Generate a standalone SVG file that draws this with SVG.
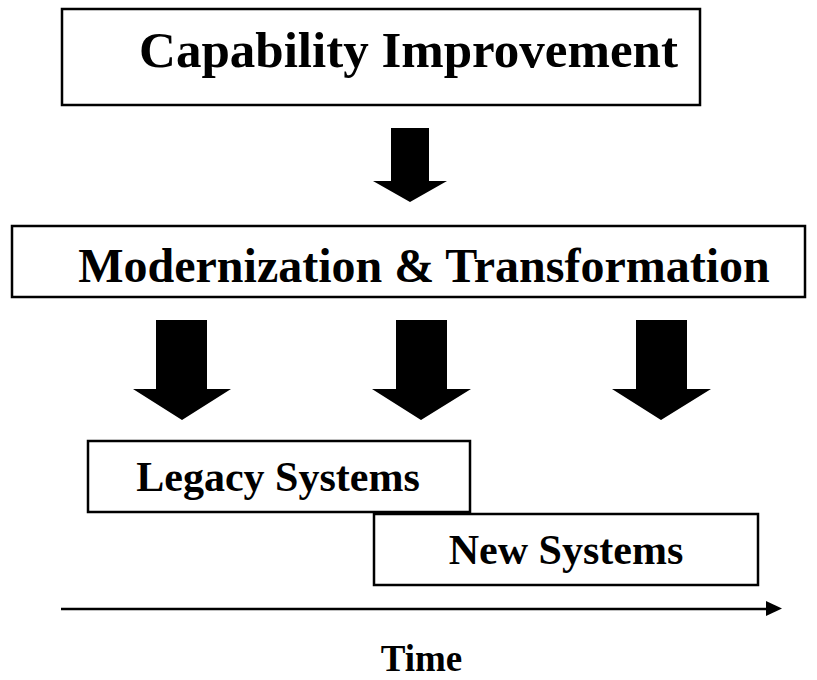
<svg xmlns="http://www.w3.org/2000/svg" width="817" height="680" viewBox="0 0 817 680">
<style>
.box{fill:#fff;stroke:#000;stroke-width:2.5}
.t{font-family:"Liberation Serif","Times New Roman",serif;font-weight:bold;fill:#000;text-anchor:middle}
.blk{fill:#000}
</style>
<rect width="817" height="680" fill="#fff"/>
<g id="capability">
<rect class="box" x="62" y="9" width="638" height="96"/>
<text class="t" x="408.5" y="67" font-size="51">Capability Improvement</text>
</g>
<g id="modernization">
<rect class="box" x="12" y="226" width="793" height="71"/>
<text class="t" x="424" y="282" font-size="48">Modernization &amp; Transformation</text>
</g>
<g id="legacy">
<rect class="box" x="88" y="441" width="382" height="71"/>
<text class="t" x="278" y="491" font-size="42">Legacy Systems</text>
</g>
<g id="new">
<rect class="box" x="374" y="514" width="384" height="71"/>
<text class="t" x="566" y="564" font-size="42">New Systems</text>
</g>
<g id="time">
<text class="t" x="421.5" y="671" font-size="37">Time</text>
</g>
<g id="connectors">
<path class="blk" d="M391,128 H429 V181 H447 L410,202 L373,181 H391 Z"/>
<path class="blk" d="M156,320 H207 V389 H231 L182,420 L133,389 H156 Z"/>
<path class="blk" d="M396,320 H447 V389 H471 L421,420 L372,389 H396 Z"/>
<path class="blk" d="M636,320 H687 V389 H711 L661,420 L612,389 H636 Z"/>
<line x1="61" y1="609" x2="768" y2="609" stroke="#000" stroke-width="2.5"/>
<path class="blk" d="M766,601 L782,608.5 L766,616 Z"/>
</g>
</svg>
